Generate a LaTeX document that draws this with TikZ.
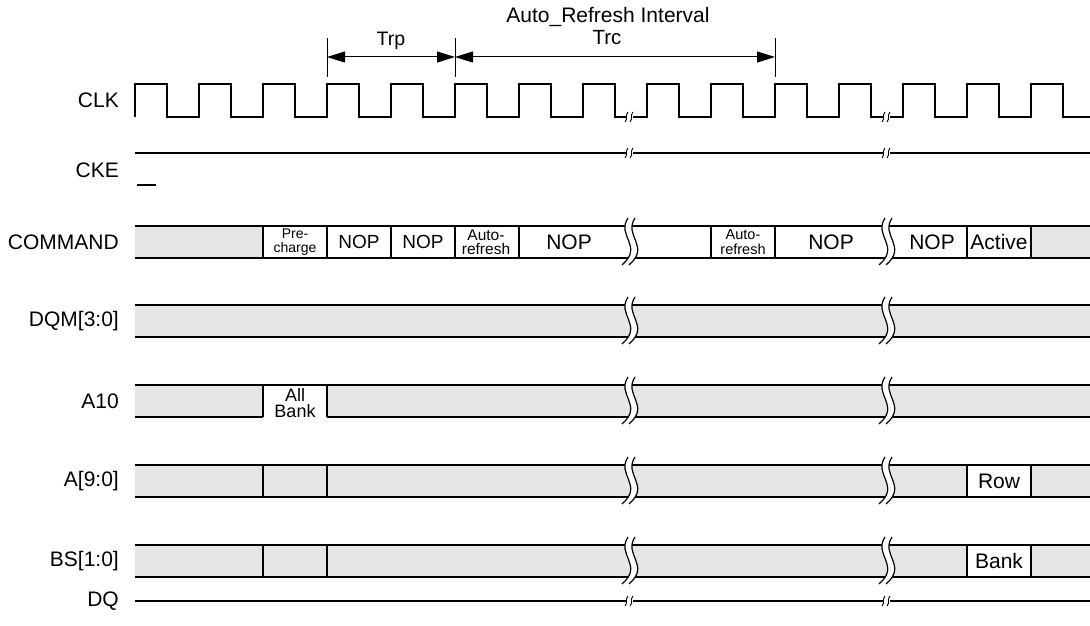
\documentclass[tikz,border=0pt]{standalone}
\usepackage{fontspec}
\setmainfont{Liberation Sans}
\usetikzlibrary{arrows.meta}

\newcommand{\fs}[1]{\fontsize{#1}{#1}\selectfont}

\tikzset{
  % small break mark on a single line
  pics/linegap/.style={code={
    \fill[white] (-3.5,-2) rectangle (3.5,2);
    \draw[line width=0.9pt] (-4,5) .. controls (-1,2) and (-4,-2) .. (-1,-5);
    \draw[line width=0.9pt] (1,5) .. controls (4,2) and (1,-2) .. (4,-5);
  }},
  % break across a bus
  pics/busgap/.style={code={
    \fill[white] (0,-24) .. controls (-12,-6) and (16,4) .. (-6,23)
      -- (1,23) .. controls (23,4) and (-5,-6) .. (7,-24) -- cycle;
    \draw[line width=1.2pt] (0,-24) .. controls (-12,-6) and (16,4) .. (-6,23);
    \draw[line width=1.2pt] (7,-24) .. controls (-5,-6) and (23,4) .. (1,23);
  }}
}

\begin{document}
\begin{tikzpicture}[
  x=1pt, y=-1pt,
  wire/.style={line width=2pt},
  tick/.style={line width=0.8pt},
  dim/.style={line width=1pt, {Triangle[length=18pt,width=11pt]}-{Triangle[length=18pt,width=11pt]}},
  busfill/.style={fill=black!10},
  sig/.style={anchor=east, inner sep=0pt, font=\fs{21}},
  cmd/.style={inner sep=0pt, align=center, font=\fs{21}}
]
\useasboundingbox (0,0) rectangle (1090,626);

% signal names
\node[sig] (clk) at (119,100) {CLK};
\node[sig] (cke) at (119,170) {CKE};
\node[sig] (command) at (119,242) {COMMAND};
\node[sig] (dqm) at (119,321) {DQM[3:0]};
\node[sig] (a10) at (119,401) {A10};
\node[sig] (addr) at (119,481) {A[9:0]};
\node[sig] (bs) at (119,561) {BS[1:0]};
\node[sig] (dq) at (119,601) {DQ};

% timing intervals
\coordinate (ta) at (327,57);
\coordinate (tb) at (455,57);
\coordinate (tc) at (775,57);
\foreach \t in {ta,tb,tc} \draw[tick] (\t) ++(0,-19) -- ++(0,39);
\draw[dim] (ta) -- (tb);
\draw[dim] (tb) -- (tc);
\node[anchor=base, inner sep=0pt, font=\fs{19.5}] (trp) at (391,46) {Trp};
\node[anchor=base, inner sep=0pt, font=\fs{20.5}] (trc) at (607,45) {Trc};
\node[anchor=base, inner sep=0pt, font=\fs{21}] (interval) at (608,23) {Auto\_Refresh Interval};

% CLK
\draw[wire] (135,117) \foreach \k in {0,...,14}{
  -- (135+64*\k,117) -- (135+64*\k,84) -- (167+64*\k,84) -- (167+64*\k,117)} -- (1090,117);
\pic at (629,117) {linegap};
\pic at (886,117) {linegap};

% CKE
\draw[wire] (135,153) -- (1090,153);
\draw[wire] (137,185) -- (156,185);
\pic at (629,153) {linegap};
\pic at (886,153) {linegap};

% COMMAND
\fill[busfill] (135,226) rectangle (263,258);
\fill[busfill] (1031,226) rectangle (1090,258);
\draw[wire] (135,226) -- (1090,226) (135,258) -- (1090,258);
\foreach \x in {263,327,391,455,519,711,775,967,1031} \draw[wire] (\x,226) -- (\x,258);
\pic at (628,242) {busgap};
\pic at (885,242) {busgap};
\node[cmd, font=\fontsize{14}{14}\selectfont] (pre) at (295,242) {Pre-\\charge};
\node[cmd, font=\fs{19}] (nop1) at (359,242) {NOP};
\node[cmd, font=\fs{19}] (nop2) at (423,242) {NOP};
\node[cmd, font=\fontsize{15.5}{14.5}\selectfont] (aref1) at (486,242) {Auto-\\refresh};
\node[cmd] (nop3) at (569,242) {NOP};
\node[cmd, font=\fontsize{14.5}{14.5}\selectfont] (aref2) at (743,242) {Auto-\\refresh};
\node[cmd] (nop4) at (831,242) {NOP};
\node[cmd] (nop5) at (932,242) {NOP};
\node[cmd] (act) at (999,242) {Active};

% DQM[3:0]
\fill[busfill] (135,305) rectangle (1090,337);
\draw[wire] (135,305) -- (1090,305) (135,337) -- (1090,337);
\pic at (628,321) {busgap};
\pic at (885,321) {busgap};

% A10
\fill[busfill] (135,385) rectangle (263,417);
\fill[busfill] (327,385) rectangle (1090,417);
\draw[wire] (135,385) -- (1090,385) (135,417) -- (263,417) (327,417) -- (1090,417);
\foreach \x in {263,327} \draw[wire] (\x,385) -- (\x,417);
\pic at (628,401) {busgap};
\pic at (885,401) {busgap};
\node[cmd, font=\fontsize{18}{16}\selectfont] (allbank) at (295,403) {All\\Bank};

% A[9:0]
\fill[busfill] (135,465) rectangle (967,497);
\fill[busfill] (1031,465) rectangle (1090,497);
\draw[wire] (135,465) -- (1090,465) (135,497) -- (1090,497);
\foreach \x in {263,327,967,1031} \draw[wire] (\x,465) -- (\x,497);
\pic at (628,481) {busgap};
\pic at (885,481) {busgap};
\node[cmd] (row) at (999,481) {Row};

% BS[1:0]
\fill[busfill] (135,545) rectangle (967,577);
\fill[busfill] (1031,545) rectangle (1090,577);
\draw[wire] (135,545) -- (1090,545) (135,577) -- (1090,577);
\foreach \x in {263,327,967,1031} \draw[wire] (\x,545) -- (\x,577);
\pic at (628,561) {busgap};
\pic at (885,561) {busgap};
\node[cmd] (bank) at (999,561) {Bank};

% DQ
\draw[wire] (135,601) -- (1090,601);
\pic at (629,601) {linegap};
\pic at (886,601) {linegap};
\end{tikzpicture}
\end{document}
